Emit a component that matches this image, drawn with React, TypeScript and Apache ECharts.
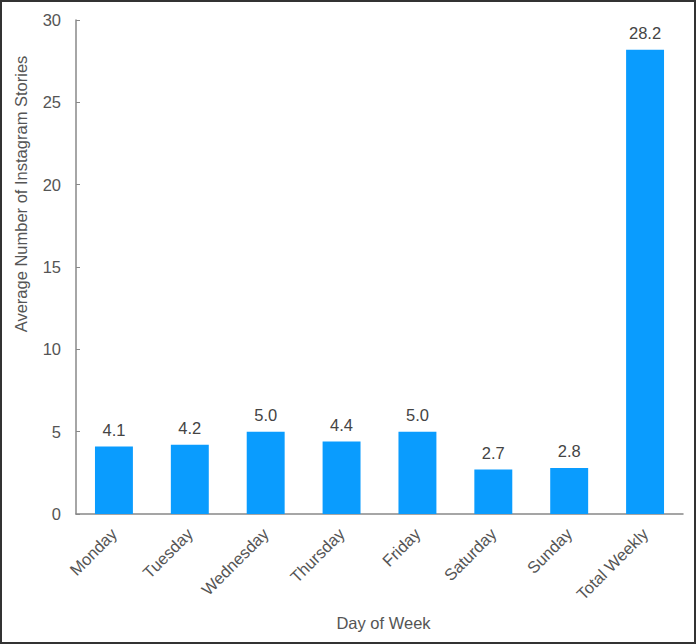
import React, { useEffect, useRef } from "react";
import * as echarts from "echarts";

const categories = ["Monday", "Tuesday", "Wednesday", "Thursday", "Friday", "Saturday", "Sunday", "Total Weekly"];
const values = [4.1, 4.2, 5.0, 4.4, 5.0, 2.7, 2.8, 28.2];
const yTicks = [0, 5, 10, 15, 20, 25, 30];
const yTitle = "Average Number of Instagram Stories";
const xTitle = "Day of Week";

const FONT = "'Liberation Sans', Arial, Helvetica, sans-serif";
const FS = 16.5;

export default function App() {
  const ref = useRef<HTMLDivElement>(null);
  useEffect(() => {
    document.body.style.margin = "0";
    const chart = echarts.init(ref.current!, null, { renderer: "svg" });
    chart.setOption({
      animation: false,
      backgroundColor: "#ffffff",
      textStyle: { fontFamily: FONT },
      graphic: [
        {
          type: "rect",
          shape: { x: 1, y: 1, width: 694, height: 642 },
          style: { fill: "none", stroke: "#333333", lineWidth: 2 },
          silent: true,
        },
        {
          type: "text",
          x: 21,
          y: 194,
          rotation: Math.PI / 2,
          style: {
            text: yTitle,
            fill: "#555555",
            font: `${FS}px ${FONT}`,
            align: "center",
            verticalAlign: "middle",
          },
          silent: true,
        },
      ],
      grid: { left: 76, right: 13, top: 20, bottom: 130 },
      xAxis: {
        type: "category",
        data: categories,
        name: xTitle,
        nameLocation: "middle",
        nameGap: 100,
        nameTextStyle: { color: "#555555", fontSize: FS, fontFamily: FONT, padding: [0, 0, 0, 8] },
        axisLine: { lineStyle: { color: "#888888", width: 1.5 } },
        axisTick: { show: false },
        axisLabel: {
          rotate: 45,
          interval: 0,
          color: "#555555",
          fontSize: FS,
          fontFamily: FONT,
          margin: 17,
        },
      },
      yAxis: {
        type: "value",
        min: 0,
        max: 30,
        interval: 5,
        axisLine: { show: true, lineStyle: { color: "#888888", width: 1.5 } },
        axisTick: { show: true, inside: true, length: 4, lineStyle: { color: "#888888" } },
        splitLine: { show: false },
        axisLabel: {
          color: "#555555",
          fontSize: FS,
          fontFamily: FONT,
          margin: 15,
          formatter: (v: number) => (yTicks.includes(v) ? String(v) : ""),
        },
      },
      series: [
        {
          type: "bar",
          data: values,
          barWidth: "50%",
          itemStyle: { color: "#0a9cfe" },
          label: {
            show: true,
            position: "top",
            distance: 8,
            color: "#444444",
            fontSize: FS,
            fontFamily: FONT,
            formatter: (p: any) => Number(p.value).toFixed(1),
          },
        },
      ],
    });
    return () => chart.dispose();
  }, []);
  return <div ref={ref} style={{ width: 696, height: 644 }} />;
}
